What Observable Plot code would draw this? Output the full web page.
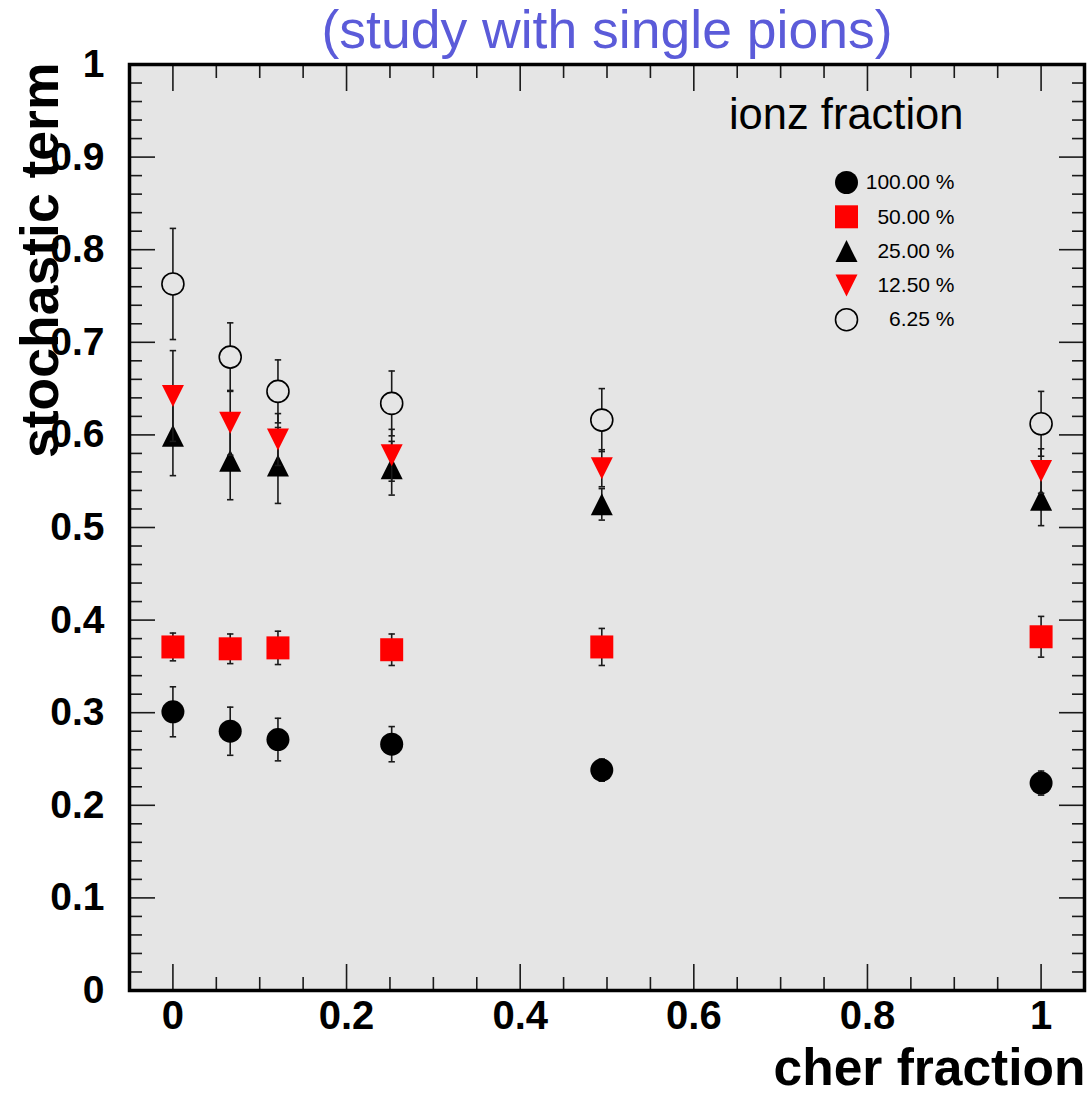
<!DOCTYPE html>
<html>
<head>
<meta charset="utf-8">
<script src="https://cdn.jsdelivr.net/npm/d3@7"></script>
<script src="https://cdn.jsdelivr.net/npm/@observablehq/plot@0.6"></script>
<style>
  html, body { margin: 0; padding: 0; background: #fff; }
  #chart svg { display: block; }
</style>
</head>
<body>
<div id="chart"></div>
<script>
// ---------------- data ----------------
const titleText = "(study with single pions)";
const xTitle = "cher fraction";
const yTitle = "stochastic term";
const legendTitle = "ionz fraction";

const cherFraction = [0, 0.066, 0.121, 0.252, 0.494, 1.0];

const ionzLabels = ["100.00 %", "50.00 %", "25.00 %", "12.50 %", "6.25 %"];

const stoch100 = [0.301, 0.280, 0.271, 0.266, 0.238, 0.224];
const err100   = [0.027, 0.026, 0.023, 0.019, 0.012, 0.013];

const stoch50  = [0.371, 0.369, 0.370, 0.368, 0.371, 0.382];
const err50    = [0.015, 0.016, 0.018, 0.017, 0.020, 0.022];

const stoch25  = [0.599, 0.572, 0.567, 0.564, 0.525, 0.530];
const err25    = [0.043, 0.042, 0.041, 0.029, 0.017, 0.028];

const stoch12  = [0.642, 0.613, 0.595, 0.578, 0.564, 0.561];
const err12    = [0.049, 0.035, 0.028, 0.028, 0.020, 0.024];

const stoch6   = [0.763, 0.684, 0.647, 0.634, 0.616, 0.612];
const err6     = [0.060, 0.037, 0.034, 0.035, 0.034, 0.035];

const yTickValues = [0, 0.1, 0.2, 0.3, 0.4, 0.5, 0.6, 0.7, 0.8, 0.9, 1];
const yTickLabels = ["0", "0.1", "0.2", "0.3", "0.4", "0.5", "0.6", "0.7", "0.8", "0.9", "1"];
const xTickValues = [0, 0.2, 0.4, 0.6, 0.8, 1];
const xTickLabels = ["0", "0.2", "0.4", "0.6", "0.8", "1"];

// ---------------- styles ----------------
const FONT = "'Liberation Sans', Arial, Helvetica, sans-serif";
const PANEL = "#e5e5e5";
const W = 1092, H = 1095;
const M = {left: 129, right: 8, top: 64, bottom: 105};

function rad(size) { return Math.sqrt(size / Math.PI); }
const symCircle = {draw(c, s) { const r = rad(s); c.moveTo(r, 0); c.arc(0, 0, r, 0, 2 * Math.PI); c.closePath(); }};
const symSquare = {draw(c, s) { const r = rad(s); c.rect(-r, -r, 2 * r, 2 * r); }};
const symTriUp = {draw(c, s) { const r = rad(s); c.moveTo(0, -r); c.lineTo(r, r); c.lineTo(-r, r); c.closePath(); }};
const symTriDown = {draw(c, s) { const r = rad(s); c.moveTo(0, r); c.lineTo(r, -r); c.lineTo(-r, -r); c.closePath(); }};
const symCap = {draw(c, s) { const r = rad(s); c.moveTo(-r, 0); c.lineTo(r, 0); }};

const series = [
  {label: ionzLabels[0], values: stoch100, errors: err100, symbol: symCircle, r: 11.5, fill: "#000", stroke: "none"},
  {label: ionzLabels[1], values: stoch50,  errors: err50,  symbol: symSquare, r: 11.5, fill: "#ff0000", stroke: "none"},
  {label: ionzLabels[2], values: stoch25,  errors: err25,  symbol: symTriUp,  r: 11,   fill: "#000", stroke: "none"},
  {label: ionzLabels[3], values: stoch12,  errors: err12,  symbol: symTriDown,r: 11,   fill: "#ff0000", stroke: "none"},
  {label: ionzLabels[4], values: stoch6,   errors: err6,   symbol: symCircle, r: 11,   fill: PANEL, stroke: "#000"}
];

const yMinor = d3.range(0, 50).map(i => i * 0.02).filter(v => !yTickValues.some(t => Math.abs(t - v) < 1e-9));
const xMinor = d3.range(0, 21).map(i => i * 0.05).filter(v => !xTickValues.some(t => Math.abs(t - v) < 1e-9));

const TICK = "#1a1a1a";
const tickOpts = {stroke: TICK, strokeWidth: 1.6, tickFormat: () => "", label: null};

const marks = [
  Plot.frame({fill: PANEL}),
  // ticks on all four sides, pointing inward
  Plot.axisY({anchor: "left", ticks: yTickValues, tickSize: -26, ...tickOpts}),
  Plot.axisY({anchor: "left", ticks: yMinor, tickSize: -13, ...tickOpts}),
  Plot.axisY({anchor: "right", ticks: yTickValues, tickSize: -26, ...tickOpts}),
  Plot.axisY({anchor: "right", ticks: yMinor, tickSize: -13, ...tickOpts}),
  Plot.axisX({anchor: "bottom", ticks: xTickValues, tickSize: -26, ...tickOpts}),
  Plot.axisX({anchor: "bottom", ticks: xMinor, tickSize: -13, ...tickOpts}),
  Plot.axisX({anchor: "top", ticks: xTickValues, tickSize: -26, ...tickOpts}),
  Plot.axisX({anchor: "top", ticks: xMinor, tickSize: -13, ...tickOpts}),
  // tick labels
  Plot.axisY({anchor: "left", ticks: yTickValues, tickSize: 0, tickPadding: 25,
    tickFormat: d => yTickLabels[yTickValues.indexOf(d)], label: null,
    fontSize: 39, fontWeight: "bold", fill: "#000"}),
  Plot.axisX({anchor: "bottom", ticks: xTickValues, tickSize: 0, tickPadding: 10,
    tickFormat: d => xTickLabels[xTickValues.indexOf(d)], label: null,
    fontSize: 40, fontWeight: "bold", fill: "#000"})
];

// data series: error bars, caps, markers
series.forEach(s => {
  const rows = cherFraction.map((x, i) => ({x, y: s.values[i], lo: s.values[i] - s.errors[i], hi: s.values[i] + s.errors[i]}));
  marks.push(
    Plot.ruleX(rows, {x: "x", y1: "lo", y2: "hi", stroke: TICK, strokeWidth: 1.6}),
    Plot.dot(rows, {x: "x", y: "lo", symbol: symCap, r: 3.2, fill: "none", stroke: TICK, strokeWidth: 1.6}),
    Plot.dot(rows, {x: "x", y: "hi", symbol: symCap, r: 3.2, fill: "none", stroke: TICK, strokeWidth: 1.6}),
    Plot.dot(rows, {x: "x", y: "y", symbol: s.symbol, r: s.r, fill: s.fill, stroke: s.stroke, strokeWidth: 1.6})
  );
});

// legend
marks.push(Plot.text([legendTitle], {frameAnchor: "top-left", dx: 834, dy: 51, text: d => d,
  textAnchor: "end", lineAnchor: "middle", fontSize: 43.5, fill: "#000"}));
series.forEach((s, i) => {
  marks.push(
    Plot.dot([s], {frameAnchor: "top-left", dx: 717, dy: 118 + i * 34.3, symbol: s.symbol, r: s.r,
      fill: s.fill, stroke: s.stroke, strokeWidth: 1.6}),
    Plot.text([s], {frameAnchor: "top-left", dx: 825, dy: 118 + i * 34.3, text: d => d.label,
      textAnchor: "end", lineAnchor: "middle", fontSize: 21, fill: "#000"})
  );
});

// titles
marks.push(
  Plot.text([titleText], {frameAnchor: "top", dy: -34, text: d => d, fontSize: 53.5,
    lineAnchor: "middle", fill: "#5b5bd9"}),
  Plot.text([xTitle], {frameAnchor: "bottom-right", dx: 1, dy: 78, text: d => d, fontSize: 51.5,
    fontWeight: "bold", textAnchor: "end", lineAnchor: "middle", fill: "#000"}),
  Plot.text([yTitle], {frameAnchor: "top-left", dx: -89, dy: -2, text: d => d, fontSize: 53.5,
    fontWeight: "bold", textAnchor: "end", lineAnchor: "middle", rotate: -90, fill: "#000"}),
  Plot.frame({stroke: "#000", strokeWidth: 3.5})
);

const chart = Plot.plot({
  width: W,
  height: H,
  marginLeft: M.left,
  marginRight: M.right,
  marginTop: M.top,
  marginBottom: M.bottom,
  style: {fontFamily: FONT, background: "#fff", overflow: "visible"},
  x: {domain: [-0.05, 1.05], axis: null},
  y: {domain: [0, 1], axis: null},
  marks
});
document.getElementById("chart").append(chart);
</script>
</body>
</html>
